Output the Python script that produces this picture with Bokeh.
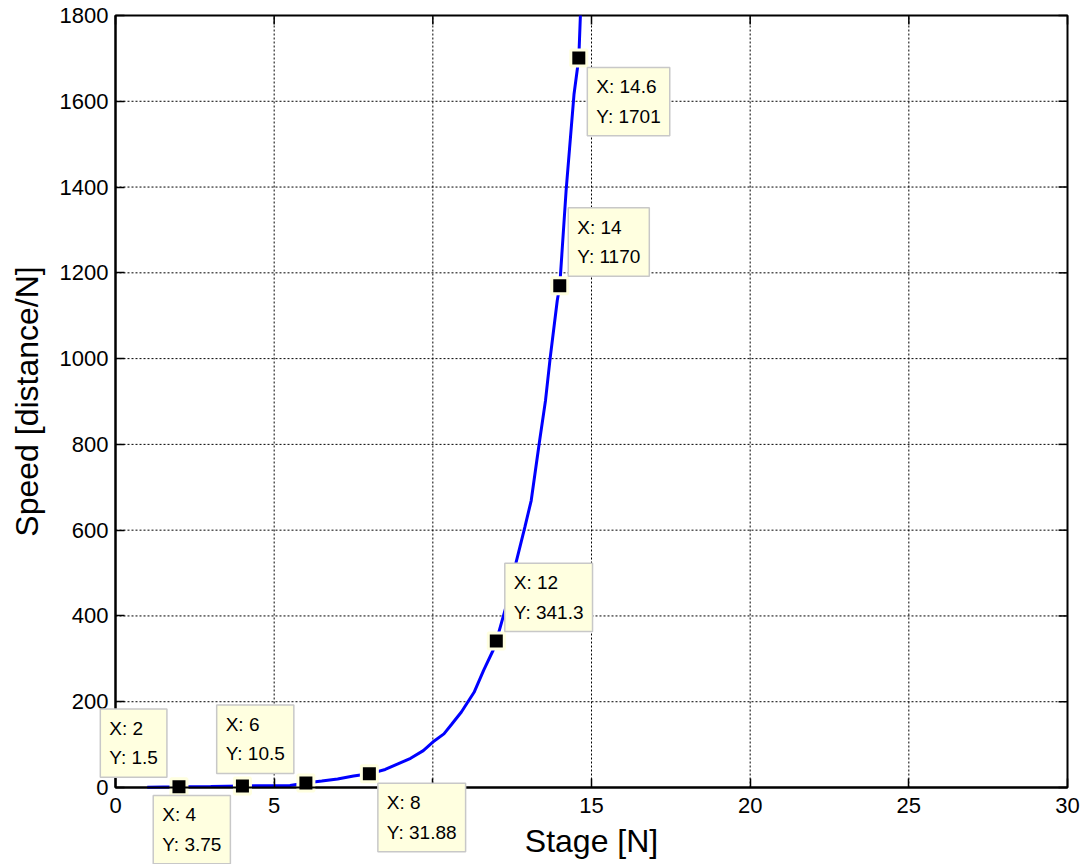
import math
from bokeh.plotting import figure
from bokeh.models import Range1d, Label, FixedTicker
from bokeh.embed import file_html
from bokeh.resources import INLINE

# ---- data ----
curve_x = [1, 2, 3, 4, 5, 5.5, 5.8, 6, 6.5, 7, 7.5, 8, 8.5, 8.9, 9.3, 9.7, 10,
           10.35, 10.6, 10.9, 11.3, 11.6, 11.9, 12, 12.3, 12.6, 12.9, 13.1,
           13.35, 13.55, 13.7, 13.92, 14, 14.2, 14.45, 14.6, 14.65]
curve_y = [0.8, 1.5, 2.5, 3.75, 4, 4.5, 8, 10.5, 15, 20, 27, 31.88, 42, 55, 68,
           86, 106, 125, 148, 176, 222, 273, 320, 341.3, 420, 518, 607, 669,
           801, 902, 1003, 1135, 1170, 1392, 1617, 1701, 1800]
tip_x = [2, 4, 6, 8, 12, 14, 14.6]
tip_y = [1.5, 3.75, 10.5, 31.88, 341.3, 1170, 1701]
x_ticks = [0, 5, 10, 15, 20, 25, 30]
y_ticks = [0, 200, 400, 600, 800, 1000, 1200, 1400, 1600, 1800]
x_title = "Stage [N]"
y_title = "Speed [distance/N]"

# ---- layout (placement only) ----
tip_side = [("left", "above"), ("left", "below"), ("left", "above"),
            ("right", "below"), ("right", "above"), ("right", "above"),
            ("right", "below")]
W, H = 1083, 864
FL, FR, FT, FB = 115, 1067, 15, 787   # axes box in page pixels

FONT = "Liberation Sans"
TIP_FS = 19
TIP_BG = "#ffffe0"

x_lo, x_hi = x_ticks[0], x_ticks[-1]
y_lo, y_hi = y_ticks[0], y_ticks[-1]
kx = (FR - FL) / (x_hi - x_lo)
ky = (FB - FT) / (y_hi - y_lo)

p = figure(width=W, height=H,
           x_range=Range1d(x_lo - FL / kx, x_hi + (W - FR) / kx),
           y_range=Range1d(y_lo - (H - FB) / ky, y_hi + FT / ky),
           output_backend="svg", toolbar_location=None,
           min_border_left=0, min_border_right=0, min_border_top=0,
           min_border_bottom=0)
p.background_fill_color = "white"
p.border_fill_color = "white"
p.outline_line_color = None
p.grid.visible = False

xa, ya = p.xaxis[0], p.yaxis[0]
xa.fixed_location = y_lo
ya.fixed_location = x_lo
xa.bounds = (x_lo, x_hi)
ya.bounds = (y_lo, y_hi)
for ax in (xa, ya):
    ax.major_tick_in = 9
    ax.major_tick_out = 0
    ax.minor_tick_line_color = None
    ax.axis_line_color = "black"
    ax.axis_line_width = 2
    ax.major_tick_line_color = "black"
    ax.major_tick_line_width = 1.5
    ax.major_label_text_font = FONT
    ax.major_label_text_font_size = "22px"
    ax.major_label_text_color = "black"
    ax.axis_label_text_font = FONT
    ax.axis_label_text_font_size = "32px"
    ax.axis_label_text_font_style = "normal"
    ax.axis_label_text_color = "black"
xa.ticker = FixedTicker(ticks=x_ticks)
ya.ticker = FixedTicker(ticks=y_ticks)
xa.axis_label = x_title
ya.axis_label = y_title
xa.major_label_standoff = 10
ya.major_label_standoff = 7
xa.axis_label_standoff = 7
ya.axis_label_standoff = 12

# dotted grid, limited to the axes box
nx, ny = len(x_ticks), len(y_ticks)
p.segment(x0=x_ticks, y0=[y_lo] * nx, x1=x_ticks, y1=[y_hi] * nx,
          line_color="black", line_dash="2 2", line_width=1)
p.segment(x0=[x_lo] * ny, y0=y_ticks, x1=[x_hi] * ny, y1=y_ticks,
          line_color="black", line_dash="2 2", line_width=1)

# axes box and mirrored inward ticks on top and right
p.quad(left=[x_lo], right=[x_hi], bottom=[y_lo], top=[y_hi],
       fill_color=None, line_color="black", line_width=2)
p.ray(x=x_ticks, y=[y_hi] * nx, length=9, length_units="screen",
      angle=-math.pi / 2, line_color="black", line_width=1.5)
p.ray(x=[x_hi] * ny, y=y_ticks, length=9, length_units="screen",
      angle=math.pi, line_color="black", line_width=1.5)

p.line(curve_x, curve_y, line_color="#0000ff", line_width=3)
p.scatter(tip_x, tip_y, marker="square", size=16, fill_color="black",
          line_color=TIP_BG, line_width=3)

CW = {c: 0.556 for c in "0123456789"}
CW.update({".": 0.278, ":": 0.278, " ": 0.278, "X": 0.667, "Y": 0.667})


def text_w(s):
    return sum(CW.get(c, 0.556) for c in s) * TIP_FS


PAD = 9
for x, y, (hs, vs) in zip(tip_x, tip_y, tip_side):
    lines = [f"X: {x:g}", f"Y: {y:g}"]
    tw = max(text_w(s) for s in lines)
    xo = 8.5 if hs == "right" else -(11 + 2 * PAD + tw)
    if vs == "above":
        yo, base = 9.5, "bottom"
    else:
        yo, base = -9.5, "top"
    lab = Label(x=x, y=y, x_offset=xo, y_offset=yo, text="\n".join(lines),
                text_font=FONT, text_font_size=f"{TIP_FS}px", text_color="black",
                text_align="left", text_baseline=base, text_line_height=1.4,
                background_fill_color=TIP_BG, border_line_color="#c8c8c8",
                border_line_width=1.5, padding=PAD)
    p.add_layout(lab)

open("out.html", "w").write(file_html(p, INLINE))
